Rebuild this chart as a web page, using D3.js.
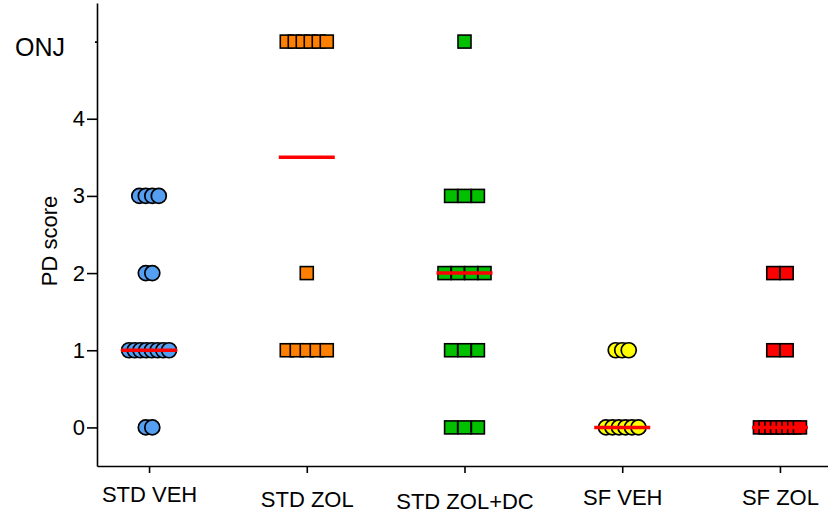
<!DOCTYPE html>
<html>
<head>
<meta charset="utf-8">
<script src="https://cdn.jsdelivr.net/npm/d3@7"></script>
<style>
  html, body { margin: 0; padding: 0; background: #fff; }
  svg { display: block; font-family: Arial, "Liberation Sans", sans-serif; }
</style>
</head>
<body>
<script>
// ---------- data ----------
const categories = ["STD VEH", "STD ZOL", "STD ZOL+DC", "SF VEH", "SF ZOL"];
// PD score per animal (5 = ONJ)
const stdVeh   = [3, 3, 3, 3, 2, 2, 1, 1, 1, 1, 1, 1, 1, 1, 0, 0];
const stdZol   = [5, 5, 5, 5, 5, 5, 2, 1, 1, 1, 1, 1];
const stdZolDc = [5, 3, 3, 3, 2, 2, 2, 2, 1, 1, 1, 0, 0, 0];
const sfVeh    = [1, 1, 1, 0, 0, 0, 0, 0, 0];
const sfZol    = [2, 2, 1, 1, 0, 0, 0, 0, 0, 0, 0, 0];
const groupValues = [stdVeh, stdZol, stdZolDc, sfVeh, sfZol];
const yTickValues = [0, 1, 2, 3, 4, 5];
const yTickLabels = ["0", "1", "2", "3", "4", "ONJ"];

// ---------- styles ----------
const groupStyle = [
  { shape: "circle", fill: "#559ff2" },
  { shape: "square", fill: "#ff8000" },
  { shape: "square", fill: "#00c000" },
  { shape: "circle", fill: "#ffff00" },
  { shape: "square", fill: "#ff0000" }
];
const labelBaseline = [502, 507, 509, 505, 505];

const W = 828, H = 513;
const svg = d3.select("body").append("svg").attr("width", W).attr("height", H);
svg.append("rect").attr("width", W).attr("height", H).attr("fill", "#fff");

const x = d3.scalePoint().domain(categories).range([97, 832]).padding(0.33);
const y = d3.scaleLinear().domain([-0.5, 5.5]).range([466, 3]);

// ---------- axes ----------
const yAxis = svg.append("g")
  .attr("transform", "translate(97,0)")
  .call(d3.axisLeft(y).tickValues(yTickValues)
        .tickFormat((d, i) => yTickLabels[i])
        .tickSize(10).tickSizeOuter(0).tickPadding(2));
yAxis.selectAll("path, line").attr("stroke", "#000").attr("stroke-width", 1.6);
yAxis.selectAll("text").attr("font-size", 22).attr("fill", "#000")
  .attr("font-family", "Arial, 'Liberation Sans', sans-serif");
yAxis.selectAll(".tick").filter(d => d === 5).each(function () {
  const t = d3.select(this);
  t.select("line").attr("x2", -2);
  t.select("text").attr("font-size", 25).attr("x", -32).attr("dy", "0.55em");
});

const xAxis = svg.append("g")
  .attr("transform", "translate(0,466)")
  .call(d3.axisBottom(x).tickSize(7).tickSizeOuter(0));
xAxis.selectAll("path, line").attr("stroke", "#000").attr("stroke-width", 1.6);
xAxis.selectAll("text")
  .attr("font-size", 22).attr("fill", "#000")
  .attr("font-family", "Arial, 'Liberation Sans', sans-serif")
  .attr("dy", 0)
  .attr("y", (d, i) => labelBaseline[i] - 466);

// y-axis title
svg.append("text")
  .attr("transform", "translate(57,241) rotate(-90)")
  .attr("text-anchor", "middle")
  .attr("font-size", 22)
  .text("PD score");

// ---------- points ----------
const maxSpan = 40;
const r = 7.5, side = 13;
groupValues.forEach((vals, gi) => {
  const st = groupStyle[gi];
  const maxStep = st.shape === "circle" ? 6.5 : 13.4;
  const cx0 = x(categories[gi]);
  const levels = Array.from(d3.group(vals, v => v).entries()).sort((a, b) => b[0] - a[0]);
  const pts = [];
  levels.forEach(([v, arr]) => {
    const n = arr.length;
    const step = n > 1 ? Math.min(maxStep, maxSpan / (n - 1)) : 0;
    arr.forEach((_, k) => pts.push({ v, dx: (k - (n - 1) / 2) * step }));
  });
  const g = svg.append("g");
  if (st.shape === "circle") {
    g.selectAll("circle").data(pts).join("circle")
      .attr("cx", d => cx0 + d.dx).attr("cy", d => y(d.v)).attr("r", r)
      .attr("fill", st.fill).attr("stroke", "#000").attr("stroke-width", 1.7);
  } else {
    g.selectAll("rect").data(pts).join("rect")
      .attr("x", d => cx0 + d.dx - side / 2).attr("y", d => y(d.v) - side / 2)
      .attr("width", side).attr("height", side)
      .attr("fill", st.fill).attr("stroke", "#000").attr("stroke-width", 1.6);
  }
});

// ---------- medians ----------
svg.append("g").selectAll("line").data(groupValues).join("line")
  .attr("x1", (d, i) => x(categories[i]) - 28)
  .attr("x2", (d, i) => x(categories[i]) + 28)
  .attr("y1", d => y(d3.median(d)))
  .attr("y2", d => y(d3.median(d)))
  .attr("stroke", "#ff0000").attr("stroke-width", 3.5);
</script>
</body>
</html>
